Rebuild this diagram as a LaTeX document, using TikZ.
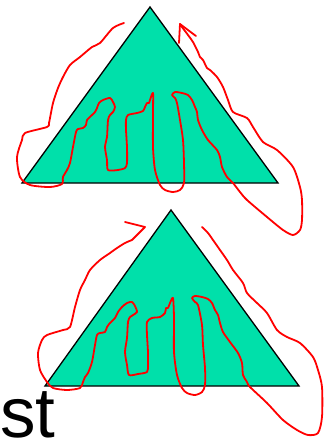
\documentclass[tikz,border=0pt]{standalone}
\usepackage{fontspec}
\setmainfont{Liberation Sans}
\usetikzlibrary{positioning}
\definecolor{mtGreen}{HTML}{00E0AA}
\definecolor{mtRed}{HTML}{FF0000}
\tikzset{
  mttri/.style={draw=black, fill=mtGreen, line width=1.3pt, line join=miter},
  mtscribble/.style={draw=mtRed, line width=1.8pt, line join=round, line cap=round},
  mtlabel/.style={inner sep=0pt, font=\fontsize{71}{71}\selectfont}
}

\begin{document}
\begin{tikzpicture}[x=1pt, y=-1pt]
  \useasboundingbox (0,0) rectangle (334,440);

  % upper triangle
  \coordinate (topA) at (150,7);
  \coordinate (topL) at (22,183);
  \coordinate (topR) at (278,183);
  \draw[mttri] (topA) -- (topR) -- (topL) -- cycle;

  % lower triangle
  \coordinate (lowA) at (171,210);
  \coordinate (lowL) at (45,386);
  \coordinate (lowR) at (299,386);
  \draw[mttri] (lowA) -- (lowR) -- (lowL) -- cycle;

  % pen strokes round the upper triangle
  \draw[mtscribble] plot[smooth, tension=0.45] coordinates {
    (124,23) (113,28) (100,43) (92,47) (80,57) (70,65) (63,77) (58,88) (53,103)
    (49,123) (47,127) (25,133) (22,140) (17,157) (20,177) (30,185) (50,187) (62,184)
    (63,177) (67,170) (70,163) (73,147) (76,132) (78,129) (83,128) (86,125) (87,120)
    (92,115) (95,112) (97,108) (99,103) (103,100) (110,98) (113,102) (115,107) (113,112)
    (110,115) (108,120) (107,137) (105,147) (107,160) (108,170) (118,170) (125,168)
    (127,163) (127,147) (126,130) (126,120) (128,115) (137,113) (143,111) (145,107)
    (147,103) (149,103) (150,100) (153,93) (153,113) (153,147) (155,170) (160,185)
    (165,190) (173,192) (180,190) (184,183) (184,163) (183,140) (180,120) (177,103)
    (175,98) (172,95) (175,92) (182,93) (188,95) (192,100) (195,107) (197,112) (198,120)
    (202,130) (208,140) (217,150) (220,157) (222,167) (227,177) (233,183) (240,192)
    (247,200) (267,217) (283,230) (293,235) (300,230) (302,220) (302,200) (300,187)
    (293,167) (277,150) (263,142) (253,127) (247,118) (233,112) (228,100) (223,87)
    (217,77) (210,70) (207,68) (203,60) (200,57) (198,52) (193,42) (188,35) (182,27)
    (180,24)};
  \coordinate (tipA) at (180,24);
  \draw[mtscribble] (179,43) -- (tipA) -- (196,36);

  % pen strokes round the lower triangle
  \coordinate (tipB) at (145,227);
  \draw[mtscribble] (132,240) -- (tipB) -- (125,222);
  \draw[mtscribble] plot[smooth, tension=0.45] coordinates {
    (132,240) (125,243) (117,248) (110,253) (100,260) (90,270) (85,280) (80,290)
    (75,307) (70,327) (63,330) (47,335) (42,340) (38,353) (40,370) (47,382) (53,388)
    (67,390) (80,388) (83,382) (85,377) (88,373) (92,362) (95,345) (97,335) (100,333)
    (105,332) (107,327) (110,323) (115,318) (118,312) (122,307) (127,303) (132,302)
    (135,306) (137,312) (133,315) (130,317) (128,322) (127,338) (125,352) (127,365)
    (129,375) (138,374) (147,372) (148,365) (148,352) (147,335) (147,322) (152,318)
    (160,317) (165,313) (166,308) (168,308) (170,303) (173,298) (174,318) (174,352)
    (177,375) (182,388) (187,393) (195,395) (202,392) (205,385) (205,368) (203,345)
    (202,325) (198,305) (195,302) (192,298) (195,296) (202,297) (208,299) (212,303)
    (215,310) (218,315) (220,323) (223,332) (230,342) (238,353) (242,363) (243,375)
    (247,382) (250,387) (267,403) (283,420) (297,430) (308,435) (318,433) (322,417)
    (322,387) (318,370) (313,357) (300,343) (287,337) (277,330) (267,313) (257,303)
    (247,293) (243,283) (233,270) (227,260) (220,250) (213,240) (208,233) (202,227)};

  \node[mtlabel, anchor=base west] (word) at (0,437) {st};
\end{tikzpicture}
\end{document}
